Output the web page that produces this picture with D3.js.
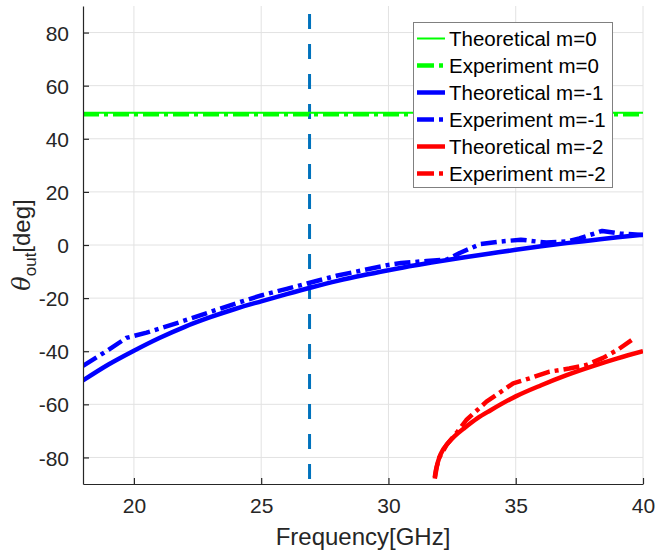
<!DOCTYPE html>
<html>
<head>
<meta charset="utf-8">
<script src="https://cdn.jsdelivr.net/npm/d3@7"></script>
<style>
  body { margin: 0; background: #fff; }
  svg { display: block; font-family: "Liberation Sans", Arial, sans-serif; }
</style>
</head>
<body>
<svg id="canvas" width="656" height="552"></svg>
<script>
// Data
let xTicks = [20, 25, 30, 35, 40];
let yTicks = [-80, -60, -40, -20, 0, 20, 40, 60, 80];
let cutoffFreq = 26.9; // vertical dashed marker

let theoM0Freq = [18, 40];
let theoM0Angle = [49.8, 49.8];
let expM0Freq = [18, 40];
let expM0Angle = [49.2, 49.2];

let theoM1Freq = [18, 19, 20, 21, 22, 23, 24, 25, 26, 27, 28, 29, 30, 31, 32, 33, 34, 35, 36, 37, 38, 39, 40];
let theoM1Angle = [-51, -45, -39.8, -35, -30.8, -27.2, -24, -21.2, -18.5, -15.9, -13.5, -11.4, -9.5, -7.7, -6.1, -4.6, -3.2, -1.8, -0.5, 0.7, 1.8, 2.9, 3.9];
let expM1Freq = [18, 19, 19.7, 20.5, 21.5, 22.6, 24, 25, 26, 26.8, 28, 29, 30, 30.5, 31.5, 32.3, 32.8, 33.6, 34.3, 35.2, 36.2, 37, 37.5, 38.4, 39.1, 40];
let expM1Angle = [-45.5, -39.5, -35, -33, -30, -26.5, -22, -19, -16.5, -14.5, -11.5, -9.5, -7.5, -6.8, -6, -5.5, -3, 0.3, 1.2, 2, 0.9, 1.3, 2.5, 5.3, 4.3, 3.8];

let theoM2Freq = [31.82, 31.86, 31.92, 32, 32.15, 32.35, 32.6, 33, 33.5, 34, 35, 36, 37, 38, 39, 40];
let theoM2Angle = [-87.5, -85, -82.5, -80, -77, -74.5, -72, -68.8, -65.2, -62.3, -57, -52.8, -49, -45.7, -42.7, -40];
let expM2Freq = [31.82, 31.9, 32, 32.3, 32.7, 33.06, 33.85, 34.9, 35.55, 36.33, 37.1, 37.78, 38.43, 39, 39.55];
let expM2Angle = [-88, -83.5, -80, -75, -70.5, -65.9, -59, -52.1, -50.2, -47.7, -46.5, -45.2, -42.5, -39.5, -35.8];

let seriesNames = ['Theoretical m=0', 'Experiment m=0', 'Theoretical m=-1', 'Experiment m=-1', 'Theoretical m=-2', 'Experiment m=-2'];

let green = '#00ff00', blue = '#0000ff', red = '#ff0000';
let dashDot = '16,5,4,5';

let series = [
    { name: seriesNames[0], f: theoM0Freq, a: theoM0Angle, color: green, width: 2, dash: null },
    { name: seriesNames[1], f: expM0Freq, a: expM0Angle, color: green, width: 4.5, dash: dashDot },
    { name: seriesNames[2], f: theoM1Freq, a: theoM1Angle, color: blue, width: 4.5, dash: null },
    { name: seriesNames[3], f: expM1Freq, a: expM1Angle, color: blue, width: 4.5, dash: dashDot },
    { name: seriesNames[4], f: theoM2Freq, a: theoM2Angle, color: red, width: 4.5, dash: null },
    { name: seriesNames[5], f: expM2Freq, a: expM2Angle, color: red, width: 4.5, dash: dashDot }
];

// Layout
let plotL = 83, plotR = 643, plotT = 6, plotB = 484;
let canvas = d3.select('#canvas');
let x = d3.scaleLinear().domain([18, 40]).range([plotL, plotR]);
let y = d3.scaleLinear().domain([-90, 90]).range([plotB, plotT]);
let axisColor = '#262626';

canvas.append('clipPath').attr('id', 'plot-clip')
    .append('rect').attr('x', plotL).attr('y', plotT).attr('width', plotR - plotL).attr('height', plotB - plotT);

// Grid
let grid = canvas.append('g');
grid.selectAll('.gx').data(xTicks).enter().append('line')
    .attr('x1', (d) => x(d)).attr('x2', (d) => x(d)).attr('y1', plotT).attr('y2', plotB)
    .attr('stroke', '#e2e2e2').attr('stroke-width', 1);
grid.selectAll('.gy').data(yTicks).enter().append('line')
    .attr('x1', plotL).attr('x2', plotR).attr('y1', (d) => y(d)).attr('y2', (d) => y(d))
    .attr('stroke', '#e2e2e2').attr('stroke-width', 1);

// Vertical dashed marker
canvas.append('line')
    .attr('x1', x(cutoffFreq)).attr('x2', x(cutoffFreq)).attr('y1', plotT + 8).attr('y2', plotB)
    .attr('stroke', '#0072bd').attr('stroke-width', 3).attr('stroke-dasharray', '15,15');

// Series
let plot = canvas.append('g').attr('clip-path', 'url(#plot-clip)');
series.forEach((s) => {
    let pts = s.f.map((f, i) => [f, s.a[i]]);
    let line = d3.line()
        .x((d) => x(d[0])).y((d) => y(d[1]))
        .curve(s.dash ? d3.curveLinear : d3.curveMonotoneX);
    plot.append('path')
        .attr('d', line(pts))
        .attr('fill', 'none')
        .attr('stroke', s.color)
        .attr('stroke-width', s.width)
        .attr('stroke-dasharray', s.dash)
        .attr('stroke-linejoin', 'round');
});

// Axes (ticks point inward, plain hyphen minus)
let fmt = (d) => String(d);
let xAxis = d3.axisBottom(x).tickValues(xTicks).tickFormat(fmt).tickSizeInner(-6).tickSizeOuter(0).tickPadding(14);
let yAxis = d3.axisLeft(y).tickValues(yTicks).tickFormat(fmt).tickSizeInner(-6).tickSizeOuter(0).tickPadding(14);

let gx = canvas.append('g').attr('transform', `translate(0,${plotB})`).call(xAxis);
let gy = canvas.append('g').attr('transform', `translate(${plotL},0)`).call(yAxis);
[gx, gy].forEach((g) => {
    g.select('.domain').attr('stroke', axisColor).attr('stroke-width', 1.2);
    g.selectAll('.tick line').attr('stroke', axisColor).attr('stroke-width', 1.2);
    g.selectAll('.tick text').attr('fill', axisColor).style('font-size', '21px')
        .style('font-family', '"Liberation Sans", Arial, sans-serif');
});
gy.selectAll('.tick text').attr('dy', '0.36em');

// Axis labels
canvas.append('text')
    .attr('x', (plotL + plotR) / 2).attr('y', 545)
    .attr('text-anchor', 'middle').attr('fill', axisColor)
    .style('font-size', '24px')
    .text('Frequency[GHz]');

let yl = canvas.append('text')
    .attr('transform', `translate(30,${(plotT + plotB) / 2}) rotate(-90)`)
    .attr('text-anchor', 'middle').attr('fill', axisColor)
    .style('font-size', '24px');
yl.append('tspan').style('font-style', 'italic').style('font-family', '"DejaVu Serif", serif').text('θ');
yl.append('tspan').attr('dy', 6).style('font-size', '17px').text('out');
yl.append('tspan').attr('dy', -6).text('[deg]');

// Legend
let lgX = 413, lgY = 22, lgW = 199, lgH = 165, rowH = 27;
let legend = canvas.append('g');
legend.append('rect')
    .attr('x', lgX + 0.5).attr('y', lgY + 0.5).attr('width', lgW).attr('height', lgH)
    .attr('fill', '#fff').attr('stroke', '#808080').attr('stroke-width', 1);
let rows = legend.selectAll('.row').data(series).enter().append('g')
    .attr('transform', (d, i) => `translate(${lgX},${lgY + 16.5 + i * rowH})`);
rows.append('line')
    .attr('x1', 4).attr('x2', 32).attr('y1', 0).attr('y2', 0)
    .attr('stroke', (d) => d.color)
    .attr('stroke-width', (d) => d.width)
    .attr('stroke-dasharray', (d) => d.dash ? '17,5,4,5' : null);
rows.append('text')
    .attr('x', 36).attr('y', 0).attr('dy', '0.36em')
    .attr('fill', '#000').style('font-size', '20.5px')
    .text((d) => d.name);
</script>
</body>
</html>
